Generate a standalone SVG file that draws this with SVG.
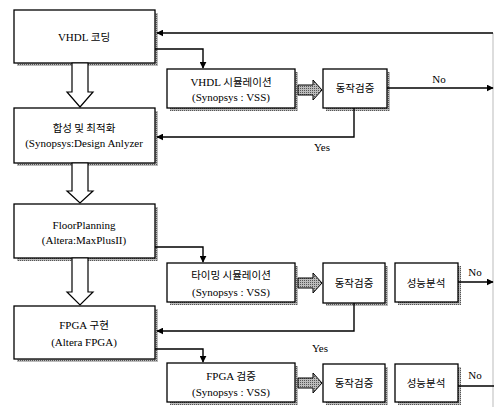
<svg xmlns="http://www.w3.org/2000/svg" width="494" height="407" viewBox="0 0 494 407">
<defs>
<marker id="ah" viewBox="0 0 10 10" refX="9" refY="5" markerWidth="7" markerHeight="7" markerUnits="userSpaceOnUse" orient="auto">
<path d="M0,0 L10,5 L0,10 z" fill="#000"/>
</marker>
<pattern id="hatch" width="2" height="2" patternUnits="userSpaceOnUse">
<rect width="2" height="2" fill="#bbb"/>
<rect width="1" height="1" fill="#555"/>
</pattern>
</defs>
<style>
.box{fill:#fff;stroke:#000;stroke-width:1.3}
.sh{fill:url(#hatch)}
.t{font-family:"Liberation Serif","Noto Sans CJK KR",serif;font-size:11px;fill:#000;text-anchor:middle}
.k{font-family:"Noto Sans CJK KR","Liberation Serif",sans-serif;font-size:10.5px;fill:#000;text-anchor:middle}
.c{fill:none;stroke:#000;stroke-width:1.4}
.hollow{fill:#fff;stroke:#000;stroke-width:1.2}
.fat{fill:url(#hatch);stroke:#000;stroke-width:1}
</style>

<g id="n_vhdl_coding">
<rect class="sh" x="17" y="13" width="141" height="53"/>
<rect class="box" x="14" y="10" width="141" height="53"/>
<text class="t" x="84" y="41">VHDL <tspan class="k" style="font-size:10.5px">코딩</tspan></text>
</g>

<g id="n_vhdl_sim">
<rect class="sh" x="170" y="72" width="128" height="39"/>
<rect class="box" x="167" y="69" width="128" height="39"/>
<text class="t" x="231" y="86">VHDL <tspan style="font-family:'Noto Sans CJK KR',sans-serif;font-size:10.5px">시뮬레이션</tspan></text>
<text class="t" x="231" y="101">(Synopsys : VSS)</text>
</g>

<g id="n_verify1">
<rect class="sh" x="326" y="72" width="64" height="39"/>
<rect class="box" x="323" y="69" width="64" height="39"/>
<text class="k" x="355" y="92">동작검증</text>
</g>

<g id="n_synth">
<rect class="sh" x="17" y="111" width="141" height="55"/>
<rect class="box" x="14" y="108" width="141" height="55"/>
<text class="k" x="84" y="132">합성 및 최적화</text>
<text class="t" x="84" y="147">(Synopsys:Design Anlyzer</text>
</g>

<g id="n_floor">
<rect class="sh" x="17" y="207" width="141" height="54"/>
<rect class="box" x="14" y="204" width="141" height="54"/>
<text class="t" x="84" y="229">FloorPlanning</text>
<text class="t" x="84" y="244">(Altera:MaxPlusII)</text>
</g>

<g id="n_timing_sim">
<rect class="sh" x="170" y="266" width="128" height="39"/>
<rect class="box" x="167" y="263" width="128" height="39"/>
<text class="k" x="231" y="279">타이밍 시뮬레이션</text>
<text class="t" x="231" y="296">(Synopsys : VSS)</text>
</g>

<g id="n_verify2">
<rect class="sh" x="326" y="266" width="62" height="40"/>
<rect class="box" x="323" y="263" width="62" height="40"/>
<text class="k" x="354" y="287">동작검증</text>
</g>

<g id="n_perf2">
<rect class="sh" x="398" y="266" width="63" height="39"/>
<rect class="box" x="395" y="263" width="63" height="39"/>
<text class="k" x="426" y="287">성능분석</text>
</g>

<g id="n_fpga">
<rect class="sh" x="17" y="309" width="141" height="53"/>
<rect class="box" x="14" y="306" width="141" height="53"/>
<text class="t" x="84" y="329">FPGA <tspan style="font-family:'Noto Sans CJK KR',sans-serif;font-size:10.5px">구현</tspan></text>
<text class="t" x="84" y="346">(Altera FPGA)</text>
</g>

<g id="n_fpga_verify">
<rect class="sh" x="170" y="366" width="128" height="39"/>
<rect class="box" x="167" y="363" width="128" height="39"/>
<text class="t" x="231" y="380">FPGA <tspan style="font-family:'Noto Sans CJK KR',sans-serif;font-size:10.5px">검증</tspan></text>
<text class="t" x="231" y="396">(Synopsys : VSS)</text>
</g>

<g id="n_verify3">
<rect class="sh" x="326" y="367" width="62" height="38"/>
<rect class="box" x="323" y="364" width="62" height="38"/>
<text class="k" x="354" y="387">동작검증</text>
</g>

<g id="n_perf3">
<rect class="sh" x="398" y="367" width="63" height="38"/>
<rect class="box" x="395" y="364" width="63" height="38"/>
<text class="k" x="426" y="387">성능분석</text>
</g>

<g id="connectors">
<line x1="493" y1="33" x2="493" y2="407" stroke="#bbb" stroke-width="1"/>
<path class="c" d="M493,33 H157" marker-end="url(#ah)"/>
<path class="c" d="M155,49 H203 V68" marker-end="url(#ah)"/>
<path class="c" d="M387,88 H493" marker-end="url(#ah)"/>
<path class="c" d="M354,108 V137 H157" marker-end="url(#ah)"/>
<path class="c" d="M155,247 H203 V262" marker-end="url(#ah)"/>
<path class="c" d="M354,303 V331 H157" marker-end="url(#ah)"/>
<path class="c" d="M155,349 H203 V362" marker-end="url(#ah)"/>
<path class="c" d="M458,282 H493" marker-end="url(#ah)"/>
<path class="c" d="M458,386 H494"/>
<path class="hollow" d="M72,63 V92 H67 L80,107 L93,92 H88 V63 Z"/>
<path class="hollow" d="M72,163 V191 H67 L80,203 L93,191 H88 V163 Z"/>
<path class="hollow" d="M72,258 V292 H67 L80,305 L93,292 H88 V258 Z"/>
<path class="fat" d="M298,85 H313 V80 L322,90 L313,100 V95 H298 Z"/>
<path class="fat" d="M298,278 H313 V273 L322,283 L313,293 V288 H298 Z"/>
<path class="fat" d="M298,378 H313 V373 L322,383 L313,393 V388 H298 Z"/>
<text class="t" x="439" y="83">No</text>
<text class="t" x="322" y="151">Yes</text>
<text class="t" x="475" y="276">No</text>
<text class="t" x="320" y="352">Yes</text>
<text class="t" x="475" y="379">No</text>
</g>
</svg>
